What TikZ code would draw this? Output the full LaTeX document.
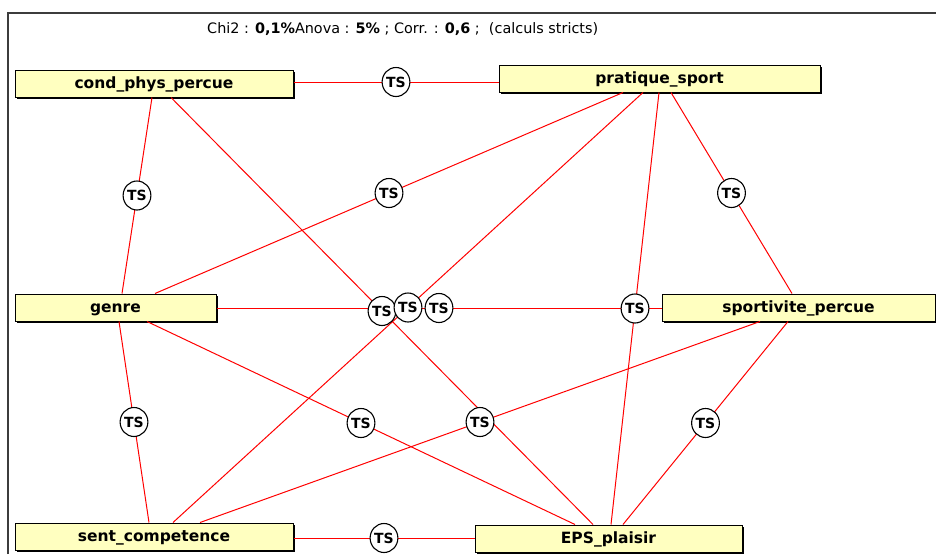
\documentclass[tikz,border=0pt]{standalone}
\usepackage{fontspec}
\setmainfont{DejaVu Sans}
\usetikzlibrary{calc,shapes.geometric,shadows}
\definecolor{boxyellow}{RGB}{255,255,192}
\definecolor{framegray}{RGB}{60,60,60}
\definecolor{linkred}{RGB}{255,0,0}
\tikzset{
  var/.style={rectangle, draw=black, line width=1pt, fill=boxyellow, inner sep=0pt,
    minimum height=27pt, text height=12pt, text depth=2pt,
    font=\fontsize{15.5}{18}\selectfont\bfseries,
    drop shadow={shadow xshift=2pt, shadow yshift=-2pt, fill=black, opacity=1}},
  link/.style={draw=linkred, line width=1pt},
  ts/.style={ellipse, draw=black, line width=1.1pt, fill=white, inner sep=0pt,
    minimum width=27pt, minimum height=29pt, font=\fontsize{14}{16}\selectfont\bfseries},
  frameline/.style={draw=framegray, line width=2pt}
}
\begin{document}
\begin{tikzpicture}[x=1pt,y=-1pt]
\useasboundingbox (0,0) rectangle (936,554);
% frame
\coordinate (fa) at (8,554);
\coordinate (fb) at (8,13);
\coordinate (fc) at (936,13);
\draw[frameline] (fa) -- (fb) -- (fc);
% title
\node[anchor=west, inner sep=0pt, font=\fontsize{14.4}{16}\selectfont] (title) at (207,29)
  {Chi2 : \textbf{0,1\%}Anova : \textbf{5\%} ; Corr. : \textbf{0,6} ;\ \ (calculs stricts)};
% variables
\node[var, minimum width=278pt] (cp) at (154,83.5) {cond\_phys\_percue};
\node[var, minimum width=321pt] (ps) at (659.5,78.5) {pratique\_sport};
\node[var, minimum width=201pt] (ge) at (115.5,307.5) {genre};
\node[var, minimum width=273pt] (sp) at (798.5,307.5) {sportivite\_percue};
\node[var, minimum width=278pt] (sc) at (154,536.5) {sent\_competence};
\node[var, minimum width=267pt] (ep) at (608.5,538.5) {EPS\_plaisir};
% links
\draw[link] ($(cp.east)+(0,-1.5)$) -- coordinate[midway] (m1) ($(ps.west)+(0,3.5)$);
\draw[link] ($(cp.south)+(-2,0)$) -- coordinate[midway] (m2) ($(ge.north)+(6.5,0)$);
\draw[link] ($(cp.south)+(17,0)$) -- coordinate[midway] (m3) ($(ep.north)+(-15.5,0)$);
\draw[link] ($(ps.south)+(-36.5,0)$) -- coordinate[midway] (m4) ($(ge.north)+(39.5,0)$);
\draw[link] ($(ps.south)+(-16.5,0)$) -- coordinate[midway] (m5) ($(sc.north)+(19,0)$);
\draw[link] ($(ps.south)+(-0.5,0)$) -- coordinate[midway] (m6) ($(ep.north)+(2.5,0)$);
\draw[link] ($(ps.south)+(11.5,0)$) -- coordinate[midway] (m7) ($(sp.north)+(-6.5,0)$);
\draw[link] ($(ge.east)+(0,0.5)$) -- coordinate[midway] (m8) ($(sp.west)+(0,0.5)$);
\draw[link] ($(ge.south)+(31.5,0)$) -- coordinate[midway] (m9) ($(ep.north)+(-33.5,0)$);
\draw[link] ($(ge.south)+(3.5,0)$) -- coordinate[midway] (m10) ($(sc.north)+(-5,0)$);
\draw[link] ($(sc.north)+(46,0)$) -- coordinate[midway] (m11) ($(sp.south)+(-38.5,0)$);
\draw[link] ($(sp.south)+(-10.5,0)$) -- coordinate[midway] (m12) ($(ep.north)+(14.5,0)$);
\draw[link] ($(sc.east)+(0,1.5)$) -- coordinate[midway] (m13) ($(ep.west)+(0,-0.5)$);
% TS markers
\foreach \m in {m1,m2,m4,m6,m7,m9,m10,m11,m12,m13,m3,m5,m8}
  \node[ts] (t\m) at (\m) {TS};
\end{tikzpicture}
\end{document}
